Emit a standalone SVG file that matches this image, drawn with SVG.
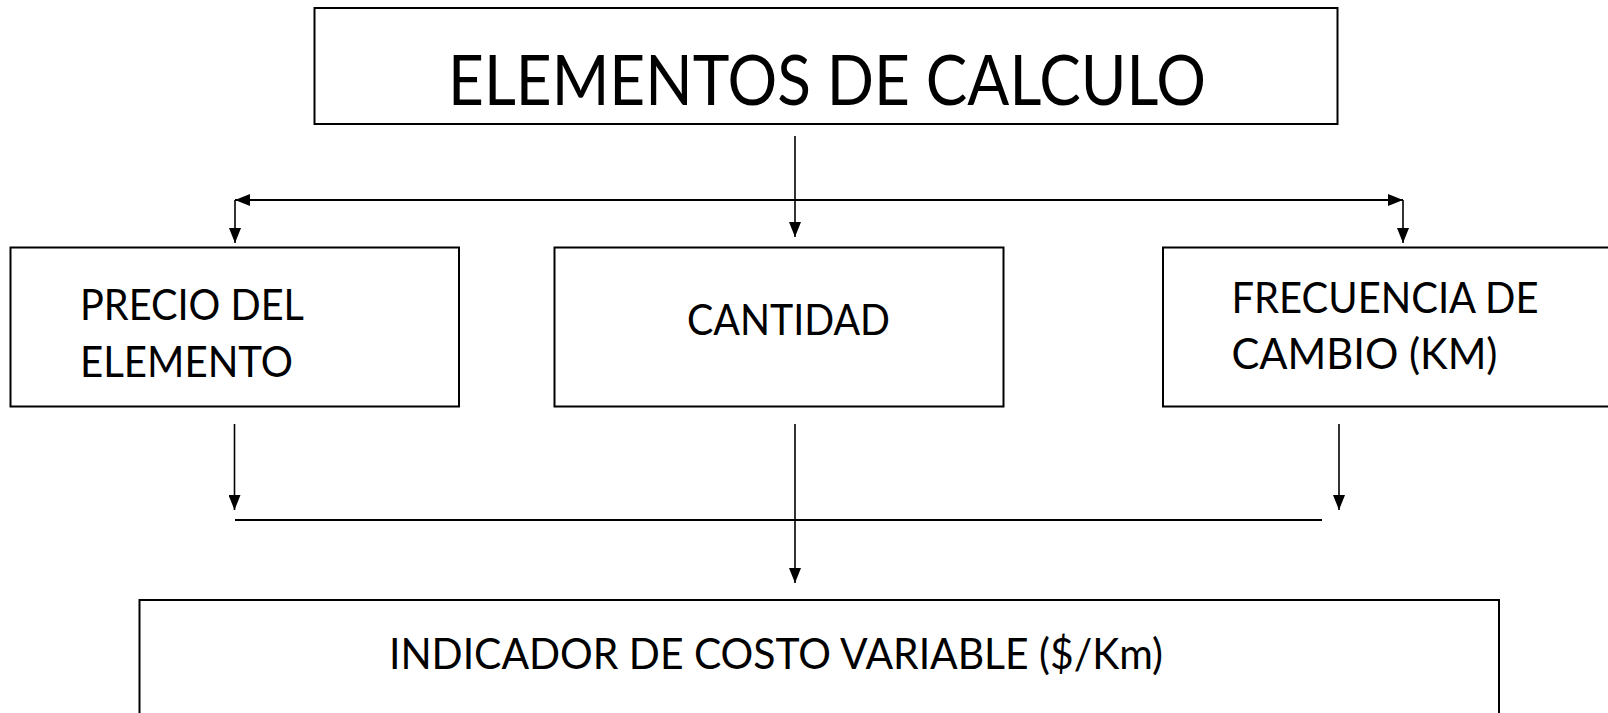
<svg xmlns="http://www.w3.org/2000/svg" width="1608" height="713" viewBox="0 0 1608 713">
<style>
.box{fill:#fff;stroke:#000;stroke-width:2}
.lbl{font-family:Lato,"Liberation Sans",sans-serif;font-size:43px;fill:#000}
.ttl{font-family:Lato,"Liberation Sans",sans-serif;font-size:69px;fill:#000}
.ln{stroke:#000;stroke-width:1.6;fill:none}
.lnb{stroke:#000;stroke-width:2.2;fill:none}
</style>
<defs>
<marker id="arr" viewBox="0 0 15 12" refX="15" refY="6" markerWidth="15" markerHeight="12" markerUnits="userSpaceOnUse" orient="auto-start-reverse">
<path d="M0,0 L15,6 L0,12 z" fill="#000"/>
</marker>
</defs>
<rect width="1608" height="713" fill="#fff"/>
<g id="connectors">
<line class="ln" x1="795" y1="136" x2="795" y2="237" marker-end="url(#arr)"/>
<line class="lnb" x1="235" y1="200" x2="1403" y2="200" marker-start="url(#arr)" marker-end="url(#arr)"/>
<line class="ln" x1="235" y1="200" x2="235" y2="243" marker-end="url(#arr)"/>
<line class="ln" x1="1403" y1="200" x2="1403" y2="243" marker-end="url(#arr)"/>
<line class="ln" x1="234.5" y1="424" x2="234.5" y2="510" marker-end="url(#arr)"/>
<line class="ln" x1="795" y1="424" x2="795" y2="583" marker-end="url(#arr)"/>
<line class="ln" x1="1339" y1="424" x2="1339" y2="510" marker-end="url(#arr)"/>
<line class="lnb" x1="235" y1="520" x2="1322" y2="520"/>
</g>
<g id="node-elementos">
<rect class="box" x="314.5" y="8" width="1023" height="116"/>
<text class="ttl" x="448" y="105" textLength="758" lengthAdjust="spacingAndGlyphs">ELEMENTOS DE CALCULO</text>
</g>
<g id="node-precio">
<rect class="box" x="10.5" y="247.5" width="448.5" height="159"/>
<text class="lbl" x="80" y="320" textLength="224" lengthAdjust="spacingAndGlyphs">PRECIO DEL</text>
<text class="lbl" x="80" y="377" textLength="213" lengthAdjust="spacingAndGlyphs">ELEMENTO</text>
</g>
<g id="node-cantidad">
<rect class="box" x="554.5" y="247.5" width="449" height="159"/>
<text class="lbl" x="687" y="335" textLength="203" lengthAdjust="spacingAndGlyphs">CANTIDAD</text>
</g>
<g id="node-frecuencia">
<rect class="box" x="1163" y="247.5" width="470" height="159"/>
<text class="lbl" x="1231.5" y="313" textLength="307" lengthAdjust="spacingAndGlyphs">FRECUENCIA DE</text>
<text class="lbl" x="1231.5" y="369" textLength="266" lengthAdjust="spacingAndGlyphs">CAMBIO (KM)</text>
</g>
<g id="node-indicador">
<rect class="box" x="139.5" y="600" width="1359.5" height="140"/>
<text class="lbl" x="389" y="669" textLength="774" lengthAdjust="spacingAndGlyphs">INDICADOR DE COSTO VARIABLE ($/Km)</text>
</g>
</svg>
